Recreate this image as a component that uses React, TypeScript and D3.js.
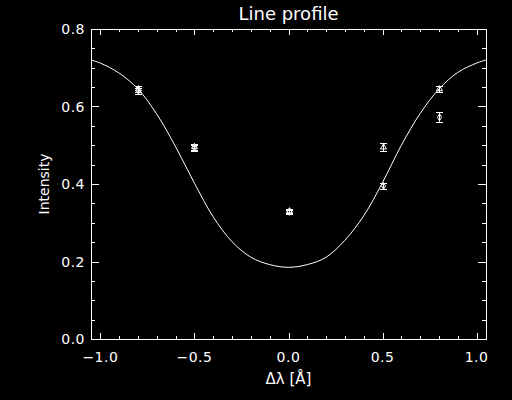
import React, { useEffect, useRef } from 'react'
import * as d3 from 'd3'

// model line profile
const profileX = [-1.05, -1.0, -0.9, -0.8, -0.7, -0.6, -0.5, -0.4, -0.3, -0.2, -0.1, 0.0,
  0.1, 0.2, 0.3, 0.4, 0.5, 0.6, 0.7, 0.8, 0.9, 1.0, 1.05]
const profileY = [0.720, 0.712, 0.686, 0.645, 0.580, 0.496, 0.402, 0.315, 0.251, 0.211, 0.192, 0.185,
  0.192, 0.211, 0.255, 0.318, 0.404, 0.500, 0.582, 0.645, 0.688, 0.712, 0.720]

// observed points (two sets) with errors
const obsX = [-0.8, -0.5, 0.0, 0.5, 0.8]
const triY = [0.645, 0.496, 0.330, 0.495, 0.645]
const triErr = [0.008, 0.008, 0.005, 0.010, 0.008]
const diaY = [0.641, 0.492, 0.328, 0.395, 0.572]
const diaErr = [0.008, 0.008, 0.005, 0.008, 0.013]

const xMajor = [-1.0, -0.5, 0.0, 0.5, 1.0]
const xMinor = d3.range(-10, 11).map(i => i / 10)
const yMajor = [0.0, 0.2, 0.4, 0.6, 0.8]
const yMinor = d3.range(0, 17).map(i => i * 0.05)

export default function App() {
  const canvas = useRef<SVGSVGElement>(null)

  useEffect(() => {
    const width = 512
    const height = 400
    const margin = { top: 29, right: 26, bottom: 61, left: 91 }
    const svg = d3.select(canvas.current)
    svg.selectAll('*').remove()

    const x = d3.scaleLinear([-1.05, 1.05], [margin.left, width - margin.right])
    const y = d3.scaleLinear([0, 0.8], [height - margin.bottom, margin.top])
    const fnt = "'DejaVu Sans', sans-serif"

    svg.append('rect').attr('width', width).attr('height', height).attr('fill', 'black')

    // frame
    const axes = svg.append('g').attr('stroke', 'white').attr('fill', 'none')
      .attr('shape-rendering', 'crispEdges')
    axes.append('rect')
      .attr('x', x.range()[0] + 0.5).attr('y', y.range()[1] + 0.5)
      .attr('width', x.range()[1] - x.range()[0]).attr('height', y.range()[0] - y.range()[1])

    const x0 = x.range()[0], x1 = x.range()[1], y0 = y.range()[0], y1 = y.range()[1]
    const px = (v: number) => Math.round(x(v)) + 0.5
    const py = (v: number) => Math.round(y(v)) + 0.5

    xMinor.forEach(v => {
      const len = xMajor.some(m => Math.abs(m - v) < 1e-6) ? 6 : 3
      axes.append('line').attr('x1', px(v)).attr('x2', px(v)).attr('y1', y0).attr('y2', y0 - len)
      axes.append('line').attr('x1', px(v)).attr('x2', px(v)).attr('y1', y1).attr('y2', y1 + len)
    })
    yMinor.forEach(v => {
      const len = yMajor.some(m => Math.abs(m - v) < 1e-6) ? 8 : 4
      axes.append('line').attr('y1', py(v)).attr('y2', py(v)).attr('x1', x0).attr('x2', x0 + len)
      axes.append('line').attr('y1', py(v)).attr('y2', py(v)).attr('x1', x1).attr('x2', x1 - len)
    })

    const fmt = d3.format('.1f')
    svg.append('g').selectAll('text').data(xMajor).join('text')
      .attr('x', d => x(d)).attr('y', 362)
      .attr('text-anchor', 'middle').attr('fill', 'white')
      .style('font', `14px ${fnt}`).style('letter-spacing', '0.5px')
      .text(d => fmt(d))
    svg.append('g').selectAll('text').data(yMajor).join('text')
      .attr('x', 85).attr('y', d => y(d) + 5)
      .attr('text-anchor', 'end').attr('fill', 'white')
      .style('font', `14px ${fnt}`).style('letter-spacing', '0.5px')
      .text(d => fmt(d))

    svg.append('text').attr('x', (x0 + x1) / 2).attr('y', 20)
      .attr('text-anchor', 'middle').attr('fill', 'white')
      .style('font', `18px ${fnt}`).text('Line profile')
    svg.append('text').attr('x', (x0 + x1) / 2).attr('y', 384)
      .attr('text-anchor', 'middle').attr('fill', 'white')
      .style('font', `15px ${fnt}`).text('Δλ [Å]')
    svg.append('text')
      .attr('transform', `translate(49,${(y0 + y1) / 2}) rotate(-90)`)
      .attr('text-anchor', 'middle').attr('fill', 'white')
      .style('font', `14px ${fnt}`).text('Intensity')

    // model curve
    const line = d3.line<number>().x((d, i) => x(profileX[i])).y(d => y(d))
      .curve(d3.curveCatmullRom)
    svg.append('path').datum(profileY)
      .attr('d', line).attr('fill', 'none').attr('stroke', 'white').attr('stroke-width', 1)

    // error bars + symbols
    const drawSet = (vals: number[], errs: number[], type: d3.SymbolType, size: number) => {
      const g = svg.append('g').attr('stroke', 'white').attr('fill', 'none')
      vals.forEach((v, i) => {
        const cx = px(obsX[i])
        const ya = Math.round(y(v - errs[i])) + 0.5
        const yb = Math.round(y(v + errs[i])) + 0.5
        g.append('line').attr('x1', cx).attr('x2', cx).attr('y1', ya).attr('y2', yb)
        g.append('line').attr('x1', cx - 3.5).attr('x2', cx + 3.5).attr('y1', ya).attr('y2', ya)
        g.append('line').attr('x1', cx - 3.5).attr('x2', cx + 3.5).attr('y1', yb).attr('y2', yb)
        g.append('path').attr('d', d3.symbol(type, size)())
          .attr('transform', `translate(${cx},${y(v)})`)
      })
    }
    drawSet(triY, triErr, d3.symbolTriangle, 16)
    drawSet(diaY, diaErr, d3.symbolDiamond, 14)
  }, [])

  return (
    <svg ref={canvas} width={512} height={400}
      style={{ position: 'fixed', left: 0, top: 0, background: 'black' }} />
  )
}
